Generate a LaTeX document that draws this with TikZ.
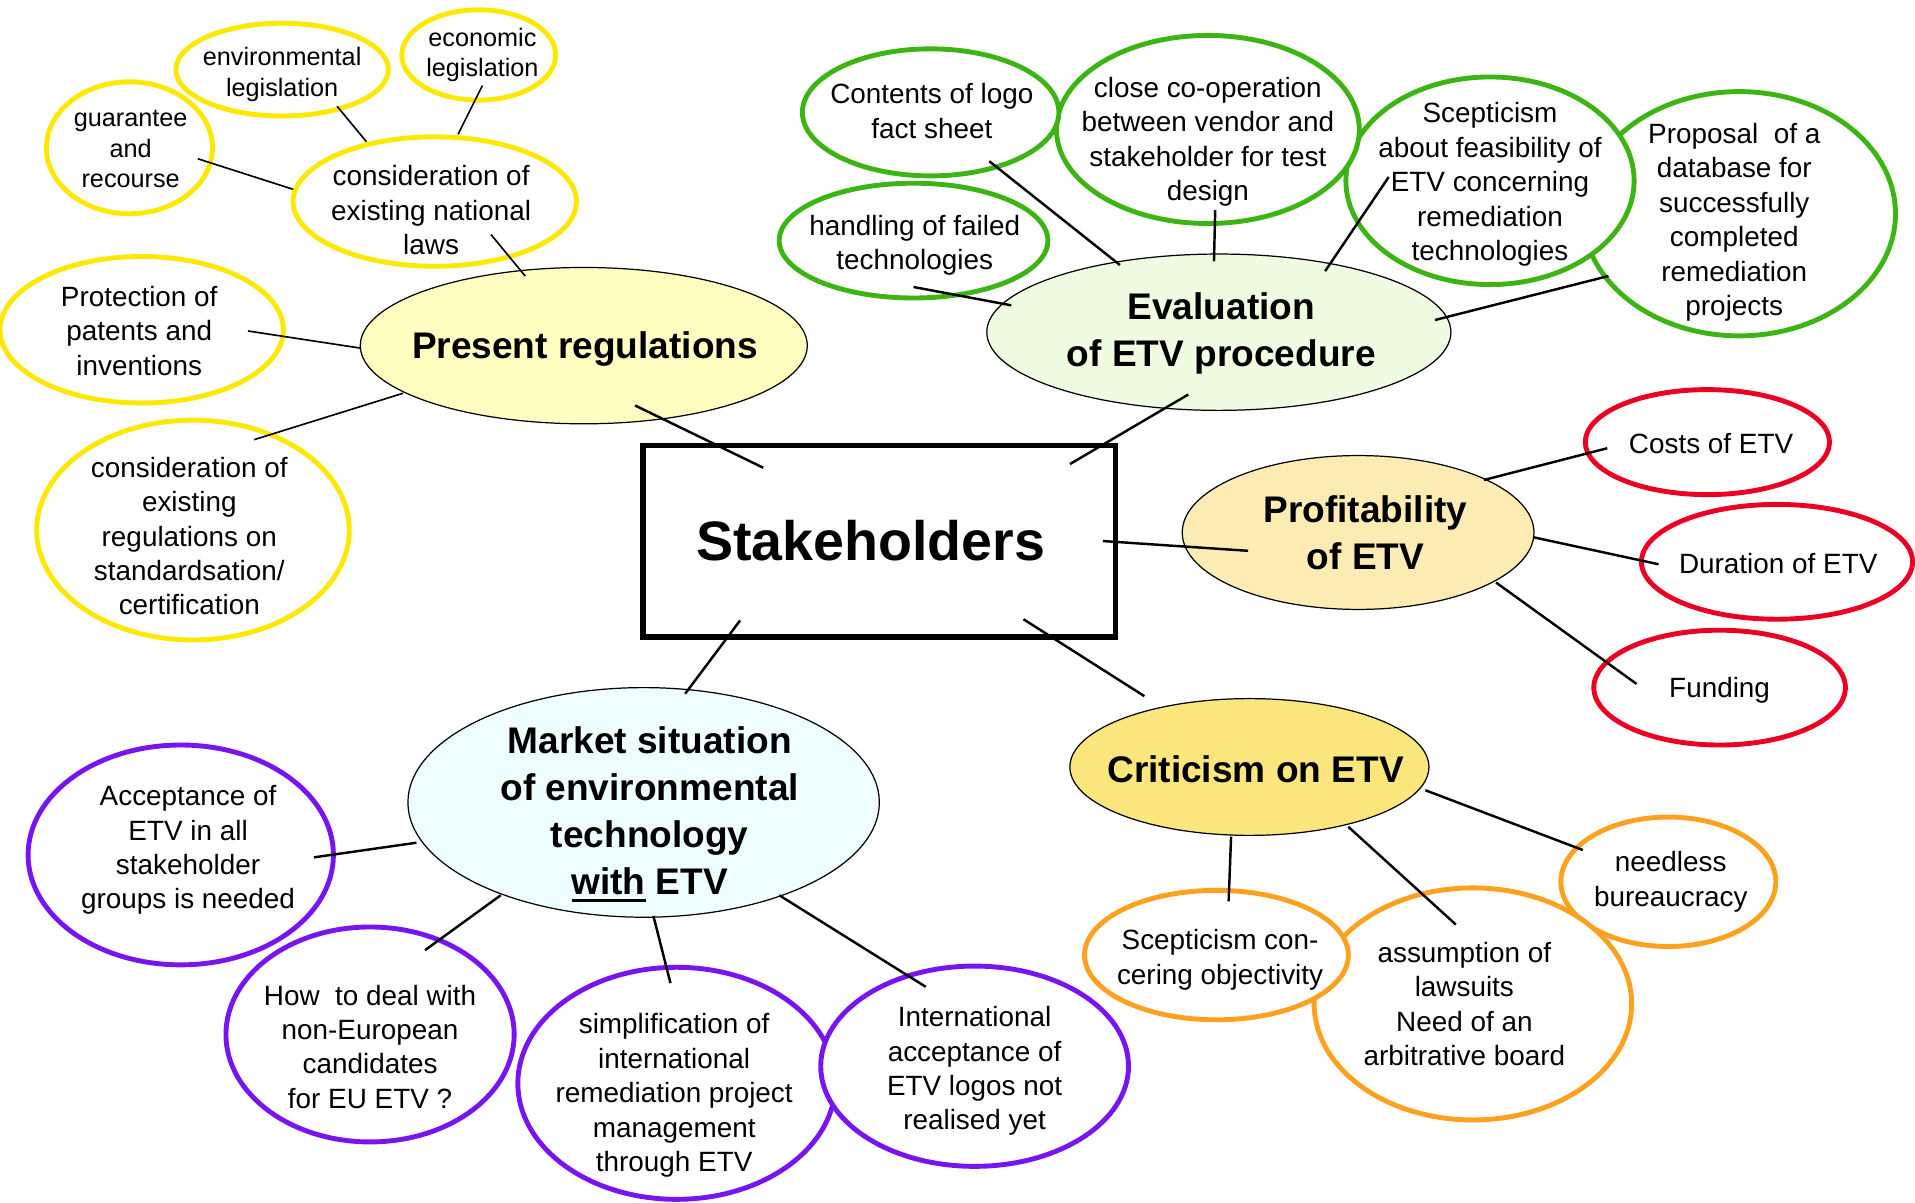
\documentclass[tikz,border=0pt]{standalone}
\usepackage{fontspec}
\setmainfont{Liberation Sans}
\usetikzlibrary{shapes.geometric,calc}
\definecolor{cyel}{RGB}{255,232,0}
\definecolor{cgrn}{RGB}{60,180,20}
\definecolor{cred}{RGB}{235,0,35}
\definecolor{corg}{RGB}{255,160,30}
\definecolor{cpur}{RGB}{120,20,240}
\definecolor{fpr}{RGB}{255,253,192}
\definecolor{fev}{RGB}{240,252,225}
\definecolor{fpf}{RGB}{253,235,180}
\definecolor{fcr}{RGB}{251,230,125}
\definecolor{fmk}{RGB}{238,254,255}
\newcommand{\thickul}[1]{\setbox0\hbox{#1}\rlap{\rule[-3.6pt]{\wd0}{1.5pt}}\box0\relax}
\tikzset{
  el/.style 2 args={ellipse, inner sep=0pt,
     minimum width={2*#1*0.6pt}, minimum height={2*#2*0.6pt}},
  mainel/.style={draw=black, line width=0.6pt},
  sat/.style={fill=white, line width=2.4pt},
  mtxt/.style={align=center, inner sep=0pt, font=\fontsize{18.2}{23.1}\selectfont\bfseries},
  stxt/.style={align=center, inner sep=0pt, font=\fontsize{13.7}{16.9}\selectfont},
  stxtsm/.style={align=center, inner sep=0pt, font=\fontsize{12.4}{15}\selectfont},
  conn/.style={draw=black, line width=1.2pt},
  connthin/.style={draw=black, line width=0.8pt},
}
% #1 shape options, #2 name, #3 #4 centre, #5 #6 text offset, #7 text style, #8 text
\newcommand{\bub}[8]{%
  \node[#1] (#2) at (#3,#4) {};
  \node[#7] (#2t) at ($(#2)+(#5,#6)$) {#8};%
}
\begin{document}
\begin{tikzpicture}[x=0.6pt,y=-0.6pt]
\useasboundingbox (0,0) rectangle (1568,985);
% central
\node[draw=black, line width=2.6pt, minimum width=387*0.6pt, minimum height=157*0.6pt] (sh) at (720,443) {};
\node[inner sep=0pt, font=\fontsize{27.3}{32}\selectfont\bfseries] (sht) at ($(sh)+(-7,0)$) {Stakeholders};
% ---- Present regulations (yellow)
\bub{el={183}{64}, mainel, fill=fpr}{pr}{478}{283}{1}{3}{mtxt}{Present regulations}
\bub{el={116}{53}, sat, draw=cyel}{nl}{356}{165}{-3}{7}{stxt}{consideration of\\existing national\\laws}
\bub{el={87}{38}, sat, draw=cyel}{env}{231}{57}{0}{4}{stxtsm}{environmental\\legislation}
\bub{el={63}{37}, sat, draw=cyel}{eco}{392}{45}{3}{0}{stxtsm}{economic\\legislation}
\bub{el={68}{54}, sat, draw=cyel}{gua}{106}{121}{1}{1}{stxtsm}{guarantee\\and\\recourse}
\bub{el={116}{60}, sat, draw=cyel}{pat}{116}{270}{-2}{1}{stxt}{Protection of\\patents and\\inventions}
\bub{el={128}{90}, sat, draw=cyel}{std}{158}{434}{-3}{5}{stxt}{consideration of\\existing\\regulations on\\standardsation/\\certification}
% ---- Evaluation (green)
\bub{el={190}{64}, mainel, fill=fev}{ev}{998}{272}{2}{1}{mtxt}{Evaluation\\of ETV procedure}
\bub{el={128}{100}, sat, draw=cgrn}{prop}{1424}{175}{-4}{7}{stxt}{Proposal\ \ of a\\database for\\successfully\\completed\\remediation\\projects}
\bub{el={118}{85}, sat, draw=cgrn}{scep}{1220}{148}{0}{3}{stxt}{Scepticism\\about feasibility of\\ETV concerning\\remediation\\technologies}
\bub{el={124}{77}, sat, draw=cgrn}{coop}{989}{106}{0}{10}{stxt}{close co-operation\\between vendor and\\stakeholder for test\\design}
\bub{el={105}{52}, sat, draw=cgrn}{logo}{762}{92}{1}{-1}{stxt}{Contents of logo\\fact sheet}
\bub{el={110}{47}, sat, draw=cgrn}{fail}{748}{197}{1}{4}{stxt}{handling of failed\\technologies}
% ---- Profitability (red)
\bub{el={144}{63}, mainel, fill=fpf}{pf}{1112}{436}{6}{0}{mtxt}{Profitability\\of ETV}
\bub{el={100}{43}, sat, draw=cred}{cost}{1398}{362}{3}{1}{stxt}{Costs of ETV}
\bub{el={111}{47}, sat, draw=cred}{dur}{1455}{460}{1}{1}{stxt}{Duration of ETV}
\bub{el={103}{47}, sat, draw=cred}{fund}{1408}{563}{0}{2}{stxt}{Funding}
% ---- Criticism (orange)
\bub{el={147}{56}, mainel, fill=fcr}{cr}{1023}{628}{5}{2}{mtxt}{Criticism on ETV}
\bub{el={88}{53}, sat, draw=corg}{need}{1366}{722}{2}{0}{stxt}{needless\\bureaucracy}
\bub{el={130}{95}, sat, draw=corg}{law}{1206}{822}{-7}{0}{stxt}{assumption of\\lawsuits\\Need of an\\arbitrative board}
\bub{el={108}{53}, sat, draw=corg}{sco}{996}{782}{3}{4}{stxt}{Scepticism con-\\cering objectivity}
% ---- Market (purple)
\bub{el={193}{94}, mainel, fill=fmk}{mk}{527}{657}{5}{10}{mtxt}{Market situation\\of environmental\\technology\\\thickul{with} ETV}
\bub{el={125}{90}, sat, draw=cpur}{acc}{148}{700}{6}{-4}{stxt}{Acceptance of\\ETV in all\\stakeholder\\groups is needed}
\bub{el={118}{88}, sat, draw=cpur}{how}{303}{847}{0}{10}{stxt}{How\ \ to deal with\\non-European\\candidates\\for EU ETV ?}
\bub{el={130}{95}, sat, draw=cpur}{simp}{554}{887}{-2}{10}{stxt}{simplification of\\international\\remediation project\\management\\through ETV}
\bub{el={126}{82}, sat, draw=cpur}{intl}{798}{873}{0}{4}{stxt}{International\\acceptance of\\ETV logos not\\realised yet}
% ---- connectors
\draw[conn] ($(pr)+(42,49)$) -- ($(sh)+(-95,-60)$);
\draw[connthin] ($(nl)+(46,27)$) -- ($(pr)+(-48,-57)$);
\draw[connthin] ($(env)+(45,30)$) -- ($(nl)+(-56,-49)$);
\draw[connthin] ($(eco)+(3,25)$) -- ($(nl)+(19,-55)$);
\draw[connthin] ($(gua)+(56,9)$) -- ($(nl)+(-116,-10)$);
\draw[connthin] ($(pat)+(87,1)$) -- ($(pr)+(-183,2)$);
\draw[connthin] ($(std)+(50,-74)$) -- ($(pr)+(-148,39)$);
\draw[conn] ($(ev)+(-25,51)$) -- ($(sh)+(156,-63)$);
\draw[conn] ($(logo)+(48,40)$) -- ($(ev)+(-81,-55)$);
\draw[conn] ($(coop)+(6,66)$) -- ($(ev)+(-4,-58)$);
\draw[conn] ($(scep)+(-83,-3)$) -- ($(ev)+(87,-50)$);
\draw[conn] ($(prop)+(-107,51)$) -- ($(ev)+(177,-10)$);
\draw[conn] ($(fail)+(0,38)$) -- ($(ev)+(-170,-22)$);
\draw[conn] ($(sh)+(183,0)$) -- ($(pf)+(-90,15)$);
\draw[conn] ($(pf)+(103,-43)$) -- ($(cost)+(-82,5)$);
\draw[conn] ($(pf)+(144,4)$) -- ($(dur)+(-97,2)$);
\draw[conn] ($(pf)+(113,41)$) -- ($(fund)+(-68,-3)$);
\draw[conn] ($(sh)+(118,64)$) -- ($(cr)+(-86,-58)$);
\draw[conn] ($(cr)+(144,19)$) -- ($(need)+(-70,-26)$);
\draw[conn] ($(cr)+(-15,57)$) -- ($(sco)+(10,-44)$);
\draw[conn] ($(cr)+(81,49)$) -- ($(law)+(-14,-65)$);
\draw[conn] ($(sh)+(-114,65)$) -- ($(mk)+(34,-89)$);
\draw[conn] ($(acc)+(109,2)$) -- ($(mk)+(-186,33)$);
\draw[conn] ($(how)+(45,-69)$) -- ($(mk)+(-117,76)$);
\draw[conn] ($(mk)+(8,93)$) -- ($(simp)+(-5,-82)$);
\draw[conn] ($(mk)+(111,76)$) -- ($(intl)+(-40,-65)$);
\end{tikzpicture}
\end{document}
